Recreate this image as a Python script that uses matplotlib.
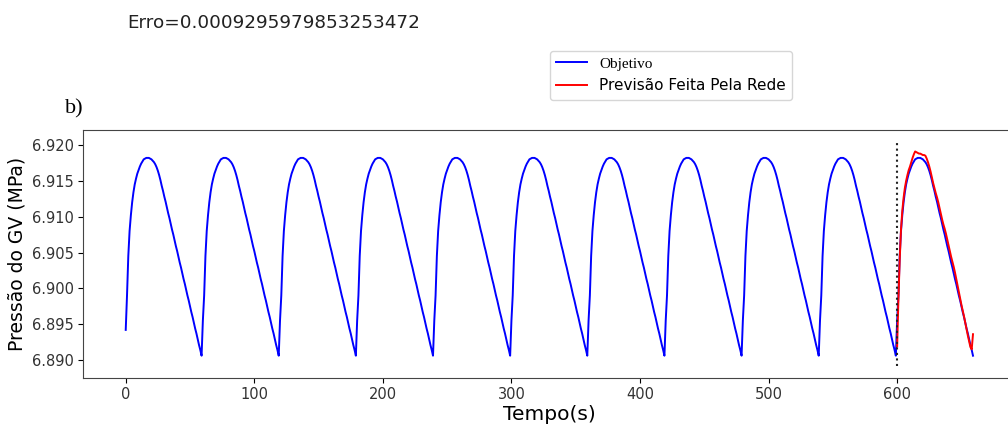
import numpy as np
import matplotlib
matplotlib.use('Agg')
import matplotlib.pyplot as plt
from matplotlib.ticker import FormatStrFormatter

# um ciclo de 60 s da pressão no GV (MPa), amostrado a cada 1 s
ciclo = [6.8955, 6.8990, 6.9045, 6.9080, 6.9102, 6.9120, 6.9134, 6.9145, 6.9153, 6.9160,
         6.9165, 6.9170, 6.9174, 6.9177, 6.9180, 6.9181, 6.9182, 6.9182, 6.9182, 6.9181,
         6.9180, 6.9178, 6.9176, 6.9173, 6.9169, 6.9164, 6.9158, 6.9151, 6.9143, 6.9136,
         6.9128, 6.9121, 6.9113, 6.9105, 6.9098, 6.9090, 6.9082, 6.9075, 6.9067, 6.9059,
         6.9052, 6.9044, 6.9036, 6.9029, 6.9021, 6.9013, 6.9006, 6.8998, 6.8990, 6.8983,
         6.8975, 6.8967, 6.8960, 6.8952, 6.8944, 6.8937, 6.8929, 6.8921, 6.8914, 6.8906]
n_ciclos = 11
valor_inicial = 6.8942

# previsão da rede para o último ciclo (600 a 659 s)
tempo_prev = np.arange(600, 660)
previsao = [6.8919, 6.8985, 6.9040, 6.9082, 6.9108, 6.9126, 6.9140, 6.9150, 6.9158, 6.9165,
            6.9170, 6.9176, 6.9182, 6.9187, 6.9191, 6.9190, 6.9189, 6.9188, 6.9188, 6.9187,
            6.9186, 6.9186, 6.9185, 6.9181, 6.9176, 6.9170, 6.9163, 6.9155, 6.9147, 6.9140,
            6.9133, 6.9127, 6.9120, 6.9112, 6.9104, 6.9096, 6.9089, 6.9083, 6.9076, 6.9068,
            6.9060, 6.9052, 6.9044, 6.9037, 6.9030, 6.9022, 6.9013, 6.9004, 6.8995, 6.8986,
            6.8977, 6.8969, 6.8961, 6.8952, 6.8943, 6.8934, 6.8926, 6.8918, 6.8915, 6.8936]

# linha que marca o início da previsão
t_corte = 600
lim_corte = [6.8892, 6.9205]

erro = '0.0009295979853253472'

objetivo = np.tile(ciclo, n_ciclos)
objetivo[0] = valor_inicial
tempo = np.arange(len(objetivo))

plt.rcParams['font.family'] = 'DejaVu Sans'

fig = plt.figure(figsize=(10.08, 4.28), dpi=100)
ax = fig.add_axes([0.0827, 0.1175, 0.9246, 0.5787])

l1, = ax.plot(tempo, objetivo, color='b', lw=1.4)
l2, = ax.plot(tempo_prev, previsao, color='r', lw=1.4)
ax.plot([t_corte, t_corte], lim_corte, ':', color='#222222', lw=1.5)

ax.set_xlim(-32.95, 691.95)
ax.set_ylim(6.88753, 6.92209)
ax.set_xticks(range(0, 700, 100))
ax.set_yticks(np.arange(6.890, 6.9201, 0.005))
ax.yaxis.set_major_formatter(FormatStrFormatter('%.3f'))

for lb in ax.get_xticklabels() + ax.get_yticklabels():
    lb.set_fontsize(10.5)
    lb.set_color('#333333')

ax.set_xlabel('Tempo(s)', fontsize=14.5, labelpad=2)
ax.set_ylabel('Pressão do GV (MPa)', fontsize=13.5)
for s in ax.spines.values():
    s.set_color('#444444')

fig.text(127/1008, 1 - 28/428, 'Erro=' + erro, fontsize=13.2, va='baseline', color='#222222')
fig.text(65/1008, 1 - 113/428, 'b)', fontsize=16, family='Liberation Serif', va='baseline')

leg = fig.legend([l1, l2], ['Objetivo', 'Previsão Feita Pela Rede'], loc='upper left',
                 bbox_to_anchor=(550/1008, 1 - 51/428), fontsize=11, borderaxespad=0)
leg.get_texts()[0].set_family('Liberation Serif')

fig.savefig('out.png', dpi=100)
